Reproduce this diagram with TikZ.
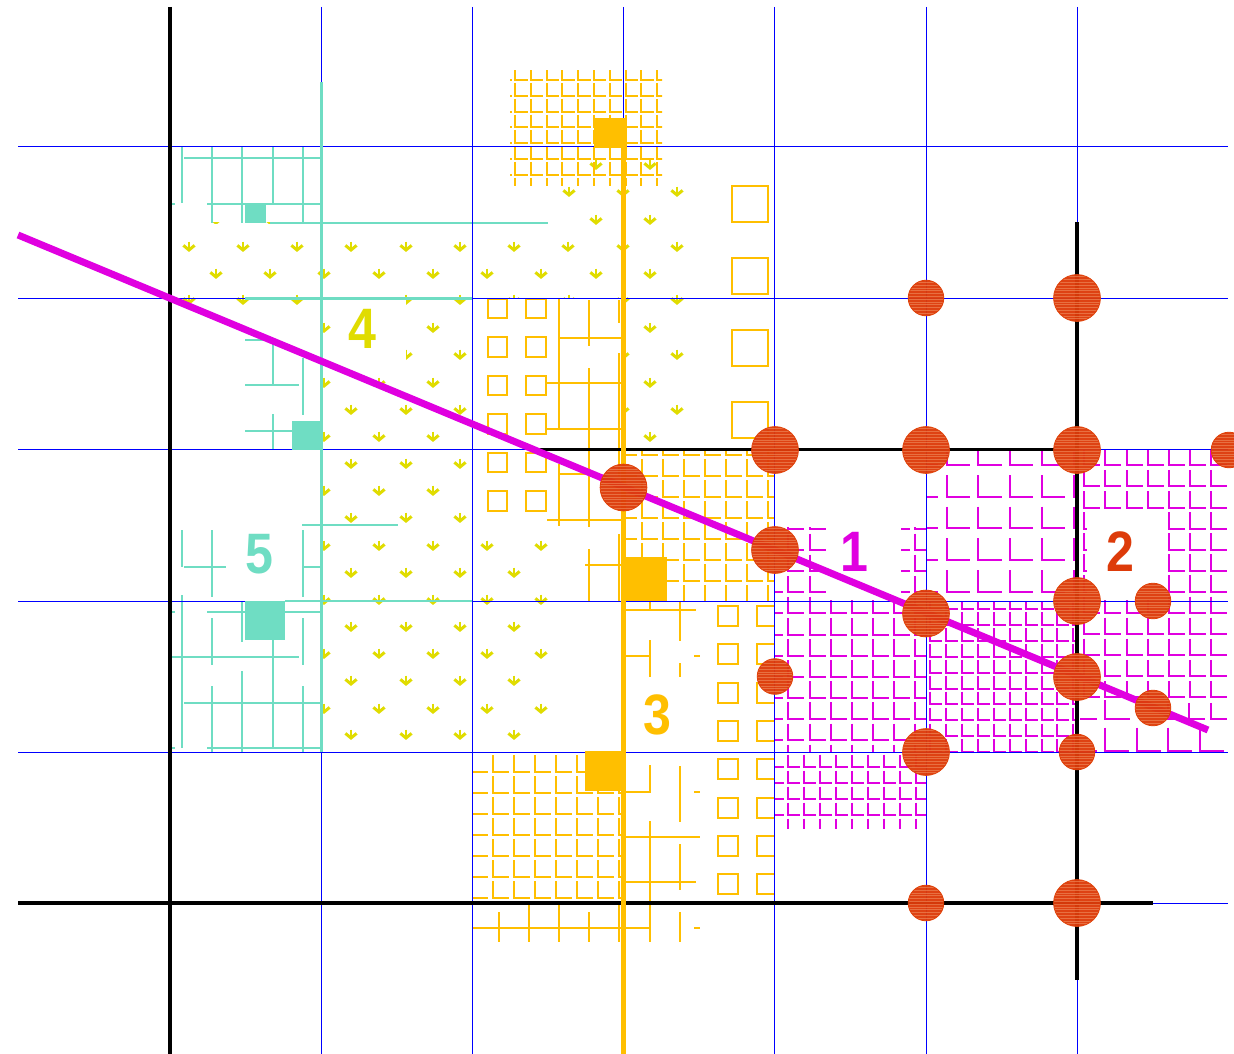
\documentclass[tikz,border=0pt]{standalone}
\usepackage{fontspec}
\setmainfont{Liberation Sans}
\definecolor{myteal}{HTML}{6FDDC3}
\definecolor{myoran}{HTML}{FFBF00}
\definecolor{mymag}{HTML}{E000E0}
\definecolor{myyel}{HTML}{E0DC00}
\definecolor{myred}{HTML}{DD3B0A}
\definecolor{mystripe}{HTML}{F09060}
\tikzset{
  tl/.style={draw=myteal,line width=2pt},
  ol/.style={draw=myoran,line width=2pt},
  ml/.style={draw=mymag,line width=2pt},
  bl/.style={draw=blue,line width=1pt},
  kl/.style={draw=black,line width=3.8pt},
  digit/.style={font=\bfseries\fontsize{57}{57}\selectfont,inner sep=0pt},
}
% L-shaped hatch: style, x0, Nx, y0, Ny, pitch, vertical length, horizontal length
\newcommand\Lg[8]{\foreach \i in {0,...,#3}{\foreach \j in {0,...,#5}{%
  \draw[#1] ({#2+\i*#6},{#4+\j*#6-#7}) -- ({#2+\i*#6},{#4+\j*#6}) -- ({#2+\i*#6+#8},{#4+\j*#6});}}}
% yellow arrows of one row
\newcommand\Arr[2]{\foreach \x in {#2}{%
  \draw[myyel,line width=2.8pt] (\x,#1-5.5) -- (\x,#1+3);
  \draw[myyel,line width=3pt] (\x-5.6,#1-1.6) -- (\x,#1+3) -- (\x+5.6,#1-1.6);}}
% hatched disc
\newcommand\Disc[3]{%
  \fill[myred,opacity=.96] (#1,#2) circle[radius=#3pt];
  \begin{scope}
    \clip (#1,#2) circle[radius=#3pt];
    \foreach \d in {-24,-21.2,...,24}{\draw[mystripe,line width=.9pt,opacity=.6] (#1-#3,#2+\d) -- (#1+#3,#2+\d);}
  \end{scope}
  \draw[myred!90!orange,line width=.8pt] (#1,#2) circle[radius=#3pt];}
\begin{document}
\begin{tikzpicture}[x=1pt,y=-1pt]
\useasboundingbox (0,0) rectangle (1234,1054);
\fill[white] (0,0) rectangle (1234,1054);

% ---- yellow arrows
\Arr{220}{216,270,324,379,433,487,541}
\fill[white] (172,150) rectangle (550,221.6);
\fill[white] (172,224) rectangle (550,240);
\Arr{220}{596,650}
\Arr{165}{596,650}
\Arr{192}{569,623,677}
\Arr{247}{189,243,297,351,406,460,514,568,623,677}
\Arr{274}{216,270,324,379,433,487,541,596,650}
\Arr{300}{189,243,297,406,460,514,569,623,677}
\Arr{328}{324,433,650}
\Arr{355}{406,460,623,677}
\Arr{383}{324,379,433,650}
\Arr{410}{351,406,460,623,677}
\Arr{437}{324,379,433,650}
\Arr{464}{351,406,460}
\Arr{491}{324,379,433}
\Arr{518}{351,406,460}
\Arr{546}{324,379,433,487,541}
\Arr{573}{351,406,460,514}
\Arr{600}{324,379,433,487,541}
\Arr{627}{351,406,460,514}
\Arr{654}{324,379,433,487,541}
\Arr{681}{351,406,460,514}
\Arr{709}{324,379,433,487,541}
\Arr{735}{351,406,460,514}
\fill[white] (172,307) rectangle (321,752);
\fill[white] (331,299.5) rectangle (406,362);
\fill[white] (473,298) rectangle (623,470);

% ---- orange hatches
\begin{scope}\clip (510,71) rectangle (662,185);
  \Lg{ol}{499.3}{10}{80}{7}{15.78}{12.7}{12.5}\end{scope}
\begin{scope}\clip (625,450) rectangle (774.5,601);
  \Lg{ol}{620.7}{7}{455}{7}{21}{16.6}{16}\end{scope}
\begin{scope}\clip (472,755) rectangle (623,900);
  \Lg{ol}{471.7}{7}{771.7}{6}{21.05}{16.6}{16}\end{scope}

% ---- orange open squares
\foreach \y in {186,258,330,402}{\draw[ol] (731.7,\y) rectangle (767.7,\y+36);}
\foreach \y in {298.7,337,375.7,414,452.7,491}{
  \draw[ol] (487.7,\y) rectangle (507.3,\y+19.6);
  \draw[ol] (526,\y) rectangle (545.7,\y+19.6);}
\begin{scope}\clip (700,600) rectangle (774.5,900);
\foreach \y in {605.7,644,682.7,721,759,797.7,836,874}{
  \draw[ol] (718,\y) rectangle (738,\y+20);
  \draw[ol] (756.7,\y) rectangle (780,\y+20);}
\end{scope}

% ---- orange cross-work
\draw[ol] (559,298) -- (559,428) (589,300) -- (589,346) (589,368) -- (589,527)
  (619,300) -- (619,323) (619,353) -- (619,476) (619,534) -- (619,601)
  (559,338) -- (621,338) (547,383) -- (621,383) (547,429) -- (621,429)
  (559,464) -- (559,526) (559,473.7) -- (600,473.7) (547,519.7) -- (621,519.7)
  (589,549) -- (589,601) (585,564.7) -- (621,564.7)
  (625,610) -- (696,610) (650,601) -- (650,610) (680,601) -- (680,641)
  (625,655.7) -- (650,655.7) (650,640) -- (650,677) (694,655.7) -- (700,655.7)
  (680,663) -- (680,677)
  (650,765) -- (650,792) -- (625,792) (680,766) -- (680,822) (694,792) -- (700,792)
  (650,821) -- (650,942) (625,837) -- (700,837) (680,844) -- (680,890)
  (625,882) -- (696,882) (680,912) -- (680,942) (694,927.7) -- (700,927.7)
  (473,927.7) -- (650,927.7) (499,912) -- (499,942) (529,905) -- (529,942)
  (559,903) -- (559,942) (589,912) -- (589,942) (619,905) -- (619,942);

% ---- magenta hatches
\begin{scope}\clip (926,450) rectangle (1077,601);
  \Lg{ml}{915}{5}{465}{4}{31.7}{21.7}{23.3}\end{scope}
\begin{scope}\clip (775,527) rectangle (926,752);
  \Lg{ml}{767.3}{7}{529}{11}{21.1}{16.5}{16}
  \fill[white] (826,520) rectangle (901,600);\end{scope}
\begin{scope}\clip (926,601) rectangle (1077,752);
  \Lg{ml}{914.3}{10}{609}{9}{15.9}{12.7}{12}\end{scope}
\begin{scope}\clip (775,752) rectangle (926,828);
  \Lg{ml}{772.3}{9}{767.3}{4}{16}{12.7}{12}\end{scope}
\begin{scope}\clip (1080,450) rectangle (1228,700);
  \Lg{ml}{1084.3}{6}{465.3}{11}{21.1}{16.5}{16}
  \fill[white] (1087,510) rectangle (1167,600);\end{scope}
\begin{scope}\clip (1080,700) rectangle (1228,752);
  \Lg{ml}{1168.3}{2}{719.4}{0}{21.1}{16.5}{16}
  \Lg{ml}{1105}{3}{750.7}{0}{31.7}{23}{24}
  \draw[ml] (1105,687) -- (1105,719.3) -- (1130,719.3);
  \draw[ml] (1080,719.3) -- (1097,719.3) (1080,750.7) -- (1097,750.7);
\end{scope}

% ---- teal cross-work
\draw[tl] (182,147) -- (182,203) (212.3,147) -- (212.3,223) (242.3,147) -- (242.3,223)
  (272.7,147) -- (272.7,203) (303,147) -- (303,223)
  (184,158.3) -- (321,158.3) (207,203.7) -- (321,203.7) (172,203.7) -- (175,203.7)
  (270,222.7) -- (548,222.7)
  (245,339.7) -- (272,339.7) (272.7,340) -- (272.7,385) (245,385) -- (299,385)
  (303,358) -- (303,415) (245,430.7) -- (292,430.7) (272.7,414) -- (272.7,450)
  (182,530) -- (182,566.7) (212.3,530) -- (212.3,597) (184,566.7) -- (226,566.7)
  (303,530) -- (303,597) (303,566.7) -- (321,566.7) (302,525) -- (398,525)
  (182,595) -- (182,748) (212.3,618) -- (212.3,664.7) (212.3,686) -- (212.3,752)
  (242.3,601) -- (242.3,642) (242.3,671) -- (242.3,752) (272.7,640) -- (272.7,748)
  (303,618) -- (303,664.7) (303,686) -- (303,752)
  (207,612) -- (321,612) (172,612) -- (175,612)
  (172,657) -- (299,657) (184,703) -- (321,703)
  (207,748) -- (321,748) (172,748) -- (175,748);

% ---- blue grid
\foreach \x in {321,472.5,623.5,774.5,926,1077}{\draw[bl] (\x,7) -- (\x,1054);}
\foreach \y in {147,298,449.5,601,752,903}{\draw[bl] (18,\y) -- (1228,\y);}

% ---- teal main lines and squares
\draw[myteal,line width=3pt] (321,82) -- (321,752);
\draw[myteal,line width=2.6pt] (245,298.4) -- (472,298.4) (285,600.8) -- (472,600.8);
\fill[myteal] (245,203.7) rectangle (266,223);
\fill[myteal] (292,420.7) rectangle (322,450);
\fill[myteal] (245,601) rectangle (285,640);

% ---- black lines
\draw[kl] (170,7) -- (170,1054);
\draw[kl] (1077,222) -- (1077,980);
\draw[kl] (18,903) -- (1153,903);
\draw[kl] (533.7,449.5) -- (1077,449.5);

% ---- orange main line and squares
\draw[myoran,line width=5pt] (623.5,147) -- (623.5,1054);
\fill[myoran] (594,118) rectangle (627,148);
\fill[myoran] (622,557) rectangle (667,601);
\fill[myoran] (585,751) rectangle (626,791);

% ---- magenta main line
\draw[mymag,line width=7pt] (18,235) -- (1208,730);

% ---- discs
\foreach \p/\q in {775/450,926/450,1077/450,1077/298,623.5/487.5,775/550,926/613.5,926/752,1077/601,1077/677,1077/903}{\Disc{\p}{\q}{23.4}}
\foreach \p/\q in {926/298,926/903,775/676.5,1077/752,1153/601,1153/708,1229/450}{\Disc{\p}{\q}{17.8}}

% ---- labels
\node[digit,text=mymag] (lab1) at (854,552) {\scalebox{.88}[1]{1}};
\node[digit,text=myred] (lab2) at (1120,552) {\scalebox{.88}[1]{2}};
\node[digit,text=myoran] (lab3) at (657,715) {\scalebox{.88}[1]{3}};
\node[digit,text=myyel] (lab4) at (362,329) {\scalebox{.88}[1]{4}};
\node[digit,text=myteal] (lab5) at (259,554) {\scalebox{.88}[1]{5}};
\end{tikzpicture}
\end{document}
